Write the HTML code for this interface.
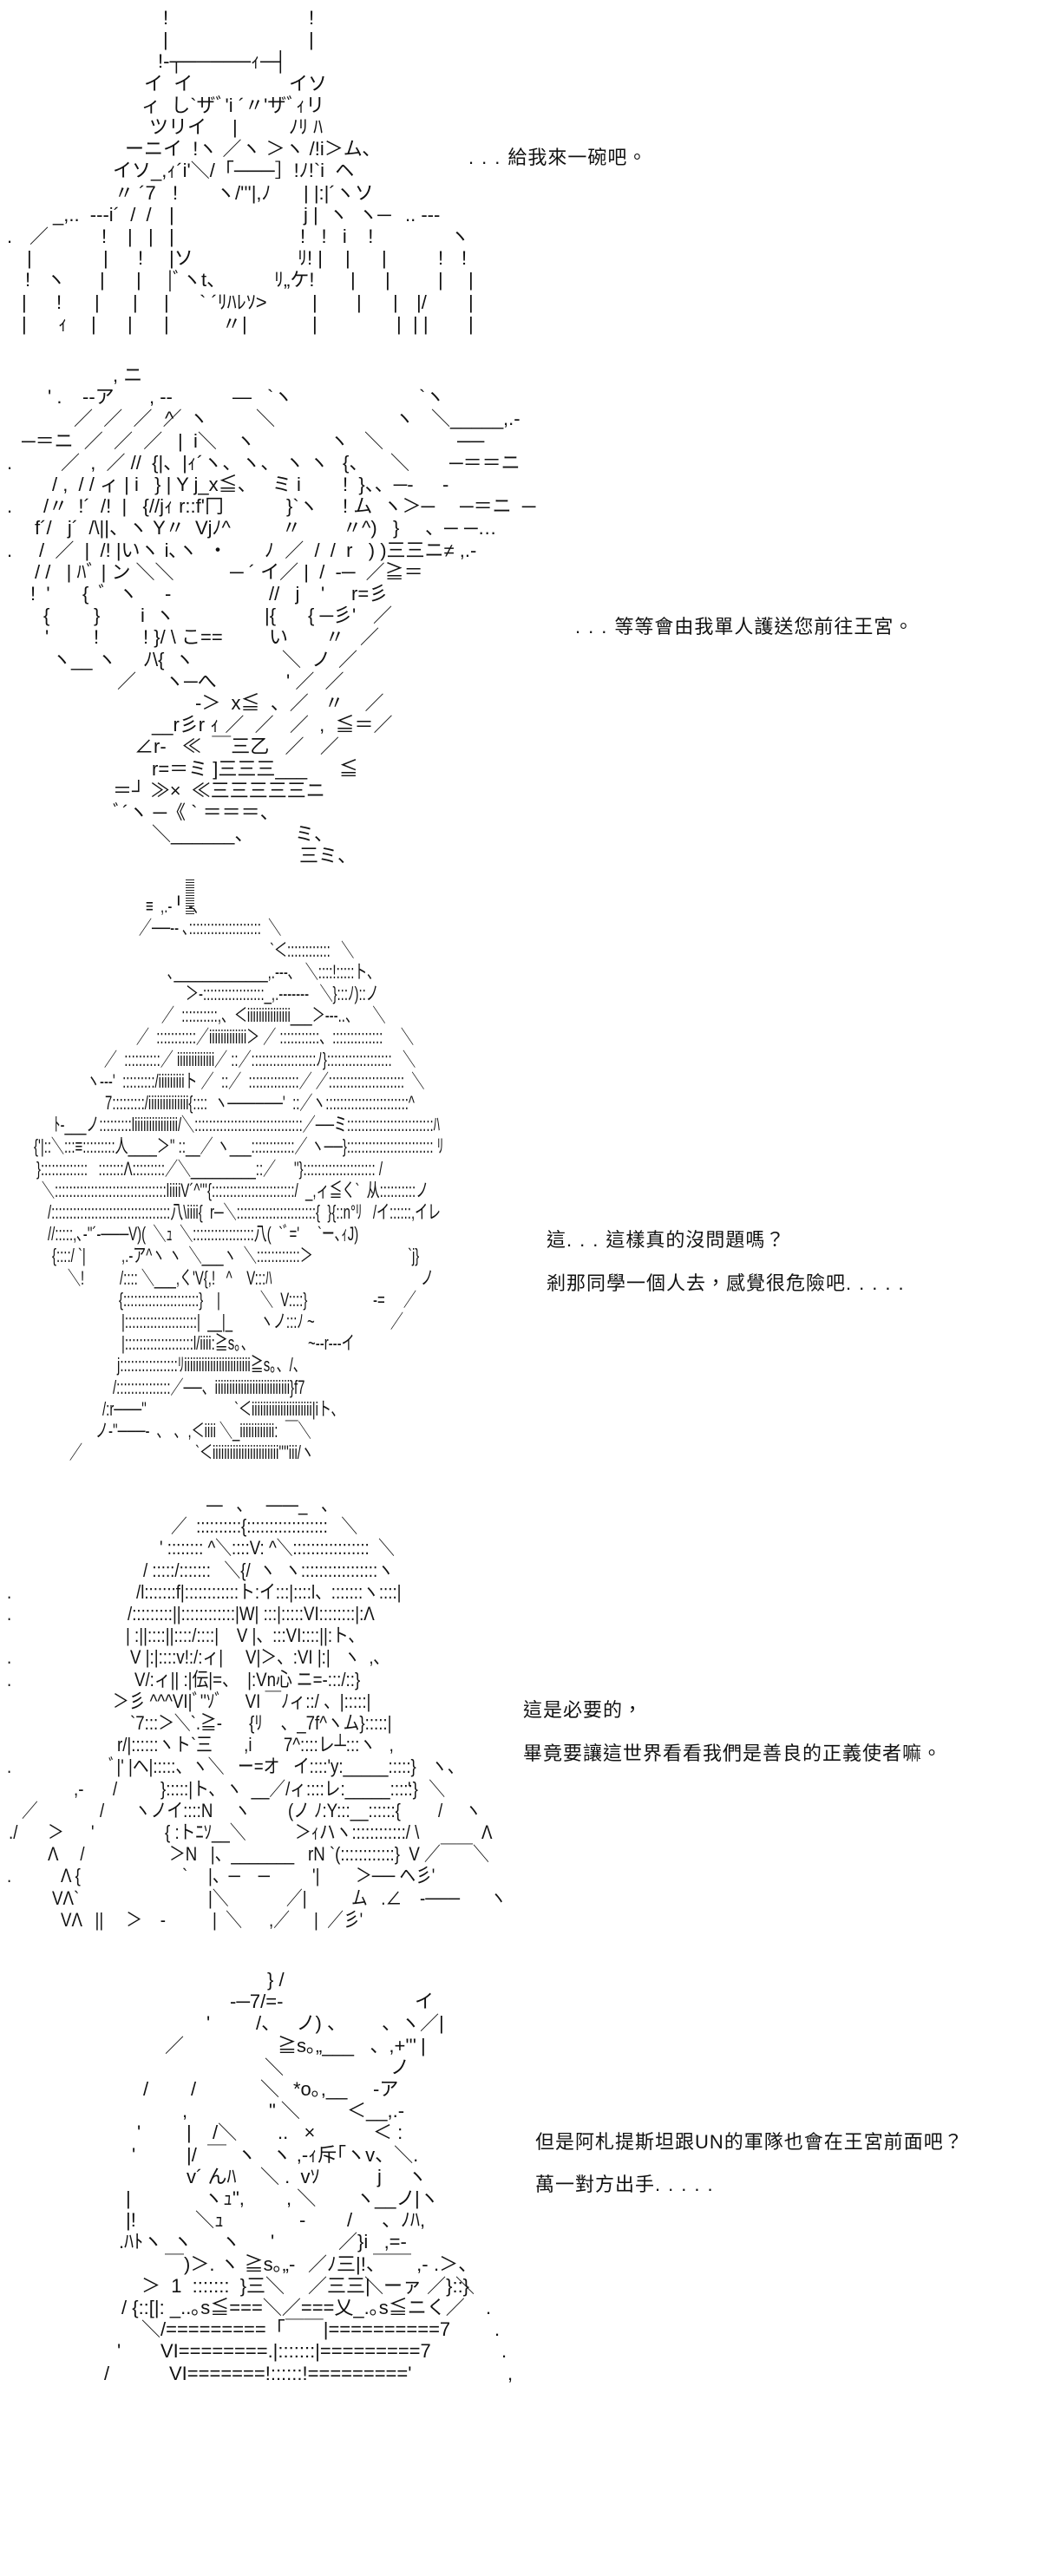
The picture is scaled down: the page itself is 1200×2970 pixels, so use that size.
<!DOCTYPE html>
<html><head><meta charset="utf-8">
<style>
html,body{margin:0;padding:0;background:#fff;}
body{width:1200px;height:2769px;position:relative;overflow:hidden;font-family:"Liberation Sans","Noto Sans CJK JP",sans-serif;color:#111;}
.a{position:absolute;left:0;width:1200px;height:700px;}
.r{position:absolute;left:0;height:26px;}
.r i{position:absolute;top:0;font-style:normal;white-space:pre;font-size:22px;line-height:25px;}
.s3 i{transform:scaleX(.68);transform-origin:0 0;}
.s4 i{transform:scaleX(.85);transform-origin:0 0;}
.t{position:absolute;white-space:pre;font-family:"Liberation Sans","Noto Sans CJK TC",sans-serif;font-size:22px;line-height:26px;letter-spacing:1px;color:#111;}
.d{letter-spacing:9px;}
.bars{position:absolute;left:214px;top:1014px;width:10px;height:42px;background:repeating-linear-gradient(#222 0 1px,#fff 1px 3px);}
</style></head><body>

<!-- Art 1 -->
<div class="a" style="top:8px">
<div class="r" style="top:0"><i style="left:188px">!</i><i style="left:356px">!</i></div>
<div class="r" style="top:25px"><i style="left:188px">|</i><i style="left:356px">|</i></div>
<div class="r" style="top:50px"><i style="left:182px">!-┬─────ｨ─┤</i></div>
<div class="r" style="top:76px"><i style="left:166px">イ  イ</i><i style="left:333px">イソ</i></div>
<div class="r" style="top:101px"><i style="left:163px">ィ  し`ザﾞ'i ´〃'ザﾞｨリ</i></div>
<div class="r" style="top:126px"><i style="left:172px">ツリイ</i><i style="left:268px">|</i><i style="left:333px">ﾉﾘ ﾊ</i></div>
<div class="r" style="top:151px"><i style="left:144px">ーニイ  !ヽ ／ヽ ＞ヽ /!i＞ム､</i></div>
<div class="r" style="top:176px"><i style="left:130px">イソ_,ｨ´i'＼/「───］!ﾉ!`i  ヘ</i></div>
<div class="r" style="top:202px"><i style="left:132px">〃 ´7</i><i style="left:199px">!</i><i style="left:249px">ヽ/'''|,ﾉ</i><i style="left:350px">| |:|´ヽソ</i></div>
<div class="r" style="top:227px"><i style="left:61px">_,..  ---i´  /  /</i><i style="left:195px">|</i><i style="left:350px">j |  ヽ  ヽ─</i><i style="left:467px">.. ---</i></div>
<div class="r" style="top:252px"><i style="left:8px">.</i><i style="left:34px">／</i><i style="left:117px">!</i><i style="left:147px">|   |</i><i style="left:195px">|</i><i style="left:346px">!   !   i    !</i><i style="left:519px">ヽ</i></div>
<div class="r" style="top:277px"><i style="left:31px">|</i><i style="left:119px">|</i><i style="left:159px">!</i><i style="left:195px">|ソ</i><i style="left:343px">ﾘ! |</i><i style="left:398px">|</i><i style="left:440px">|</i><i style="left:505px">!</i><i style="left:532px">!</i></div>
<div class="r" style="top:302px"><i style="left:29px">!   ヽ</i><i style="left:115px">|</i><i style="left:157px">|</i><i style="left:193px">|ﾞヽt、</i><i style="left:316px">ﾘ„ケ!</i><i style="left:404px">|</i><i style="left:444px">|</i><i style="left:505px">|</i><i style="left:540px">|</i></div>
<div class="r" style="top:328px"><i style="left:25px">|</i><i style="left:65px">!</i><i style="left:109px">|</i><i style="left:153px">|</i><i style="left:189px">|</i><i style="left:230px">` ´ﾘﾊﾚｿ&gt;</i><i style="left:360px">|</i><i style="left:411px">|</i><i style="left:453px">|</i><i style="left:480px">|/</i><i style="left:540px">|</i></div>
<div class="r" style="top:353px"><i style="left:25px">|</i><i style="left:67px">ｨ</i><i style="left:105px">|</i><i style="left:147px">|</i><i style="left:189px">|</i><i style="left:256px">〃</i><i style="left:279px">|</i><i style="left:360px">|</i><i style="left:457px">|</i><i style="left:476px">| |</i><i style="left:540px">|</i></div>
</div>

<div class="t" style="left:540px;top:169px"><span class="d">...</span>給我來一碗吧。</div>

<!-- Art 2 -->
<div class="a" style="top:420px">
<div class="r" style="top:0"><i style="left:130px">, ニ</i></div>
<div class="r" style="top:25px"><i style="left:55px">' .</i><i style="left:95px">--ア</i><i style="left:172px">, --</i><i style="left:268px">—</i><i style="left:308px">`ヽ</i><i style="left:483px">`ヽ</i></div>
<div class="r" style="top:50px"><i style="left:85px">／  ／  ／  ／</i><i style="left:190px">^</i><i style="left:218px">ヽ</i><i style="left:295px">＼</i><i style="left:455px">ヽ</i><i style="left:497px">＼_____</i><i style="left:580px">,.-</i></div>
<div class="r" style="top:76px"><i style="left:25px">─＝ニ  ／  ／  ／</i><i style="left:205px">|  i＼</i><i style="left:272px">ヽ</i><i style="left:380px">ヽ</i><i style="left:420px">＼</i><i style="left:527px">──</i></div>
<div class="r" style="top:101px"><i style="left:8px">.</i><i style="left:70px">／  ,  ／ //  {|、|ｨ´ヽ、ヽ、 ヽ ヽ</i><i style="left:395px">{、</i><i style="left:450px">＼</i><i style="left:518px">─＝＝ニ</i></div>
<div class="r" style="top:126px"><i style="left:60px">/ ,  / / ィ | i   } | Y j_x≦、   ミ i</i><i style="left:395px">!  }、、─-</i><i style="left:510px">-</i></div>
<div class="r" style="top:151px"><i style="left:8px">.</i><i style="left:50px">/〃  !´  /!  |   {//jｨ r::f'冂</i><i style="left:330px">}`ヽ</i><i style="left:395px">! ム  ヽ＞─</i><i style="left:530px">─＝ニ  ─</i></div>
<div class="r" style="top:176px"><i style="left:40px">f´/   j´  /\||、ヽ Y〃  Vjﾉ^</i><i style="left:325px">〃</i><i style="left:395px">〃^)   }</i><i style="left:490px">、─</i><i style="left:535px">─…</i></div>
<div class="r" style="top:202px"><i style="left:8px">.</i><i style="left:45px">/  ／  |  /! |いヽ i､ヽ</i><i style="left:240px">・</i><i style="left:305px">ﾉ  ／  /  /  r   ) )三三ニ≠ ,.-</i></div>
<div class="r" style="top:227px"><i style="left:40px">/ /   | ﾊﾞ | ン ＼＼</i><i style="left:265px">─ ´ イ／ |  /  -─  ／≧＝</i></div>
<div class="r" style="top:252px"><i style="left:35px">!  '</i><i style="left:95px">{  ﾞ  ヽ</i><i style="left:190px">-</i><i style="left:310px">//   j</i><i style="left:370px">'</i><i style="left:405px">r=彡</i></div>
<div class="r" style="top:277px"><i style="left:50px">{</i><i style="left:108px">}</i><i style="left:162px">i  ヽ</i><i style="left:305px">|{</i><i style="left:355px">{ ─彡'</i><i style="left:430px">／</i></div>
<div class="r" style="top:302px"><i style="left:52px">'</i><i style="left:108px">!</i><i style="left:165px">! }/ \ こ==</i><i style="left:310px">い</i><i style="left:375px">〃</i><i style="left:415px">／</i></div>
<div class="r" style="top:328px"><i style="left:60px">ヽ__</i><i style="left:112px">ヽ</i><i style="left:165px">ﾉ\{  ヽ</i><i style="left:325px">＼  ノ</i><i style="left:390px">／</i></div>
<div class="r" style="top:353px"><i style="left:135px">／</i><i style="left:190px">ヽ─へ</i><i style="left:330px">' ／  ／</i></div>
<div class="r" style="top:378px"><i style="left:225px">-＞  x≦  、／   〃    ／</i></div>
<div class="r" style="top:403px"><i style="left:175px">__r彡r ｨ ／  ／   ／  ,  ≦＝／</i></div>
<div class="r" style="top:428px"><i style="left:155px">∠r-   ≪  ￣三乙   ／   ／</i></div>
<div class="r" style="top:454px"><i style="left:175px">r=＝ミ ]三三三___      ≦</i></div>
<div class="r" style="top:479px"><i style="left:130px">＝┘ ≫×  ≪三三三三三ニ</i></div>
<div class="r" style="top:504px"><i style="left:130px">ﾞ´ヽ ─《 ` ＝＝＝、</i></div>
<div class="r" style="top:529px"><i style="left:175px">＼______、</i><i style="left:340px">ミ、</i></div>
<div class="r" style="top:554px"><i style="left:345px">三ミ、</i></div>
</div>

<div class="t" style="left:663px;top:710px"><span class="d">...</span>等等會由我單人護送您前往王宮。</div>

<!-- Art 3 -->
<div class="bars"></div>
<div class="a s3" style="top:1007px">
<div class="r" style="top:25px"><i style="left:168px">≡  ,.-╹ -､</i></div>
<div class="r" style="top:50px"><i style="left:160px">／──-- ､::::::::::::::::::::  ＼</i></div>
<div class="r" style="top:76px"><i style="left:311px">`＜::::::::::::   ＼</i></div>
<div class="r" style="top:101px"><i style="left:193px">､_____________,.---､   ＼::::!:::::ト､</i></div>
<div class="r" style="top:126px"><i style="left:214px">＞-:::::::::::::::::_,.-------   ＼}:::ﾉ)::ノ</i></div>
<div class="r" style="top:151px"><i style="left:186px">／  ::::::::::,、＜iiiiiiiiiiiiiii___＞---..、    ＼</i></div>
<div class="r" style="top:176px"><i style="left:157px">／  :::::::::::／iiiiiiiiiiiii＞ ／ :::::::::::、::::::::::::::     ＼</i></div>
<div class="r" style="top:202px"><i style="left:120px">／  ::::::::::／ iiiiiiiiiiiii／ ::／::::::::::::::::::ﾉ}::::::::::::::::::   ＼</i></div>
<div class="r" style="top:227px"><i style="left:100px">ヽ---'  :::::::::/iiiiiiiiiト ／  ::／  ::::::::::::::／ ／:::::::::::::::::::::  ＼</i></div>
<div class="r" style="top:252px"><i style="left:121px">7:::::::::/iiiiiiiiiiiiii{::::  ヽ──────'  ::／ヽ:::::::::::::::::::::::^</i></div>
<div class="r" style="top:277px"><i style="left:62px">ﾄ-___ノ:::::::::liiiiiiiiiiiiiii/＼::::::::::::::::::::::::::::::／──ミ::::::::::::::::::::::::ﾊ</i></div>
<div class="r" style="top:302px"><i style="left:39px">{'|::＼:::≡:::::::::人____＞'' ::__／ ヽ___::::::::::::／ ヽ──}:::::::::::::::::::::::: ﾘ</i></div>
<div class="r" style="top:328px"><i style="left:42px">}:::::::::::::   :::::::Λ:::::::::／＼_________::／     ''}:::::::::::::::::::: /</i></div>
<div class="r" style="top:353px"><i style="left:48px">＼:::::::::::::::::::::::::::::::liiiiV´^'''{:::::::::::::::::::::::/  _,ィ≦く`  从::::::::::ノ</i></div>
<div class="r" style="top:378px"><i style="left:55px">/:::::::::::::::::::::::::::::::::八\iiii{  r─＼::::::::::::::::::::::{  }{::n°ﾘ   /イ::::::,イレ</i></div>
<div class="r" style="top:403px"><i style="left:55px">//:::::,､-''´-───V)(  ＼ｭ  ＼:::::::::::::::::八(  `ﾞ='     `ー､ｨJ)</i></div>
<div class="r" style="top:428px"><i style="left:60px">{::::/ `|</i><i style="left:140px">,.-ア^ヽ ヽ  ＼___ヽ  ＼::::::::::::＞</i><i style="left:470px">`j}</i></div>
<div class="r" style="top:454px"><i style="left:78px">＼!</i><i style="left:138px">/:::: ＼___,く'V{,!   ^    V:::ﾊ</i><i style="left:485px">ノ</i></div>
<div class="r" style="top:479px"><i style="left:137px">{:::::::::::::::::::::}</i><i style="left:250px">|</i><i style="left:300px">＼  V::::}</i><i style="left:430px">-=</i><i style="left:465px">／</i></div>
<div class="r" style="top:504px"><i style="left:140px">|::::::::::::::::::::|  __|_</i><i style="left:300px">ヽノ:::ﾉ ~</i><i style="left:450px">／</i></div>
<div class="r" style="top:529px"><i style="left:140px">|:::::::::::::::::::l/iiii:≧s｡、</i><i style="left:355px">~--r---イ</i></div>
<div class="r" style="top:554px"><i style="left:135px">j::::::::::::::::ﾘiiiiiiiiiiiiiiiiiiiiiii≧s｡、/、</i></div>
<div class="r" style="top:580px"><i style="left:130px">/:::::::::::::::／──、iiiiiiiiiiiiiiiiiiiiiiiiii}f7</i></div>
<div class="r" style="top:605px"><i style="left:118px">/:r───''</i><i style="left:270px">`＜iiiiiiiiiiiiiiiiiiiii|iト､</i></div>
<div class="r" style="top:630px"><i style="left:110px">ノ-''───-  ､   ､  ,＜iiii ＼_iiiiiiiiiiii:  ￣＼</i></div>
<div class="r" style="top:655px"><i style="left:80px">／</i><i style="left:225px">`＜iiiiiiiiiiiiiiiiiiiiiii''''iii/ヽ</i></div>
</div>

<div class="t" style="left:630px;top:1417px">這<span class="d">...</span>這樣真的沒問題嗎？</div>
<div class="t" style="left:630px;top:1467px">剎那同學一個人去，感覺很危險吧<span class="d">.....</span></div>

<!-- Art 4 -->
<div class="a s4" style="top:1722px">
<div class="r" style="top:0"><i style="left:238px">—   、   ——_   、</i></div>
<div class="r" style="top:25px"><i style="left:197px">／  ::::::::::{::::::::::::::::::   ＼</i></div>
<div class="r" style="top:50px"><i style="left:184px">' :::::::: ^＼::::V: ^＼:::::::::::::::::  ＼</i></div>
<div class="r" style="top:76px"><i style="left:165px">/ :::::/:::::::   ＼{/  ヽ  ヽ:::::::::::::::::ヽ</i></div>
<div class="r" style="top:101px"><i style="left:8px">.</i><i style="left:157px">/l:::::::f|::::::::::::ト:イ:::|::::l、:::::::ヽ::::|</i></div>
<div class="r" style="top:126px"><i style="left:8px">.</i><i style="left:147px">/:::::::::||::::::::::::|W| :::|:::::VI::::::::|:Λ</i></div>
<div class="r" style="top:151px"><i style="left:145px">| :||::::||::::/::::|    V |、:::VI::::||:ト､</i></div>
<div class="r" style="top:176px"><i style="left:8px">.</i><i style="left:150px">V |:|::::v!:/:ィ|     V|＞、:VI |:|   ヽ  ,､</i></div>
<div class="r" style="top:202px"><i style="left:8px">.</i><i style="left:155px">V/:ィ|| :|伝|=、  |:Vn心 ニ=-:::/::}</i></div>
<div class="r" style="top:227px"><i style="left:130px">＞彡 ^^^VI|ﾞ''ｿﾞ     VI ￣ﾉィ::/ 、|:::::|</i></div>
<div class="r" style="top:252px"><i style="left:150px">`7:::＞＼`.≧-      {ﾘ    、_7f^ヽム}:::::|</i></div>
<div class="r" style="top:277px"><i style="left:135px">r/|::::::ヽト`三       ,i       7^::::レ┴:::ヽ   ,</i></div>
<div class="r" style="top:302px"><i style="left:8px">.</i><i style="left:125px">ﾞ|' |ヘ|:::::、ヽ＼   ー=オ   イ::::'y:_____:::::}</i><i style="left:497px">ヽ、</i></div>
<div class="r" style="top:328px"><i style="left:85px">,-</i><i style="left:130px">/</i><i style="left:185px">}:::::|ト､  ヽ  __／/ィ::::レ:_____:::::}</i><i style="left:470px">'    ＼</i></div>
<div class="r" style="top:353px"><i style="left:25px">／</i><i style="left:115px">/</i><i style="left:155px">ヽノイ::::N</i><i style="left:270px">ヽ</i><i style="left:332px">(ノ ﾉ:Y:::__::::::{</i><i style="left:505px">/     ヽ</i></div>
<div class="r" style="top:378px"><i style="left:10px">./</i><i style="left:55px">＞</i><i style="left:105px">'</i><i style="left:190px">{ :トﾆｿ__＼</i><i style="left:340px">＞ｨハヽ::::::::::::/ \</i><i style="left:555px">Λ</i></div>
<div class="r" style="top:403px"><i style="left:55px">Λ     /</i><i style="left:195px">＞N   |、_______</i><i style="left:355px">rN `(::::::::::::}  V ／￣￣＼</i></div>
<div class="r" style="top:428px"><i style="left:8px">.</i><i style="left:70px">Λ {</i><i style="left:210px">`</i><i style="left:240px">|、─    ─</i><i style="left:360px">'|</i><i style="left:410px">＞── ヘ彡'</i></div>
<div class="r" style="top:454px"><i style="left:60px">VΛ`</i><i style="left:240px">|＼</i><i style="left:330px">／|</i><i style="left:405px">ム   .∠    -───</i><i style="left:565px">ヽ</i></div>
<div class="r" style="top:479px"><i style="left:70px">VΛ   ||     ＞    -</i><i style="left:245px">|  ＼</i><i style="left:310px">,／</i><i style="left:362px">|  ／彡'</i></div>
</div>

<div class="t" style="left:603px;top:1959px">這是必要的，</div>
<div class="t" style="left:603px;top:2009px">畢竟要讓這世界看看我們是善良的正義使者嘛。</div>

<!-- Art 5 -->
<div class="a" style="top:2270px">
<div class="r" style="top:0"><i style="left:308px">} /</i></div>
<div class="r" style="top:25px"><i style="left:265px">-─7/=-</i><i style="left:478px">イ</i></div>
<div class="r" style="top:50px"><i style="left:238px">'</i><i style="left:295px">/、   ノ) 、</i><i style="left:440px">、ヽ／|</i></div>
<div class="r" style="top:76px"><i style="left:190px">／</i><i style="left:320px">≧s｡„___   、,+'''</i><i style="left:485px">|</i></div>
<div class="r" style="top:101px"><i style="left:305px">＼</i><i style="left:450px">ノ</i></div>
<div class="r" style="top:126px"><i style="left:165px">/</i><i style="left:220px">/</i><i style="left:300px">＼</i><i style="left:338px">*o｡,__</i><i style="left:430px">-ア</i></div>
<div class="r" style="top:151px"><i style="left:210px">,</i><i style="left:310px">" ＼</i><i style="left:400px">＜__,.-</i></div>
<div class="r" style="top:176px"><i style="left:158px">'</i><i style="left:215px">|</i><i style="left:245px">/＼</i><i style="left:320px">..   ×</i><i style="left:430px">＜ :</i></div>
<div class="r" style="top:202px"><i style="left:152px">'</i><i style="left:215px">|/  ￣  ヽ   ヽ ,-ｨ斥｢ヽv、＼.</i></div>
<div class="r" style="top:227px"><i style="left:215px">v´ んﾊ</i><i style="left:300px">＼ .  vｿ</i><i style="left:435px">j</i><i style="left:470px">ヽ</i></div>
<div class="r" style="top:252px"><i style="left:145px">|</i><i style="left:235px">ヽｭ",</i><i style="left:330px">, ＼</i><i style="left:410px">ヽ__ノ</i><i style="left:478px">|ヽ</i></div>
<div class="r" style="top:277px"><i style="left:145px">|!</i><i style="left:225px">＼ｭ</i><i style="left:345px">-</i><i style="left:400px">/</i><i style="left:440px">、ﾉﾊ,</i></div>
<div class="r" style="top:302px"><i style="left:137px">.ﾊﾄヽ  ヽ</i><i style="left:255px">ヽ</i><i style="left:312px">'</i><i style="left:390px">／}i   ,=-</i></div>
<div class="r" style="top:328px"><i style="left:190px">￣)＞. ヽ ≧s｡„-</i><i style="left:355px">／ﾉ三|!、</i><i style="left:430px">￣￣ ,-</i><i style="left:500px">.＞、</i></div>
<div class="r" style="top:353px"><i style="left:163px">＞  1  :::::::  }三＼</i><i style="left:355px">／三三|</i><i style="left:420px">＼ーァ ／}::}</i><i style="left:525px">＼</i></div>
<div class="r" style="top:378px"><i style="left:140px">/ {::[|: _..｡s≦===＼／===乂_.｡s≦ニく／</i><i style="left:560px">.</i></div>
<div class="r" style="top:403px"><i style="left:163px">＼/=========「￣￣|==========7</i><i style="left:570px">.</i></div>
<div class="r" style="top:428px"><i style="left:135px">'</i><i style="left:185px">VI========.|:::::::|=========7</i><i style="left:578px">.</i></div>
<div class="r" style="top:454px"><i style="left:120px">/</i><i style="left:195px">VI=======!::::::!=========' </i><i style="left:585px">,</i></div>
</div>

<div class="t" style="left:617px;top:2457px">但是阿札提斯坦跟UN的軍隊也會在王宮前面吧？</div>
<div class="t" style="left:617px;top:2506px">萬一對方出手<span class="d">.....</span></div>

</body></html>
